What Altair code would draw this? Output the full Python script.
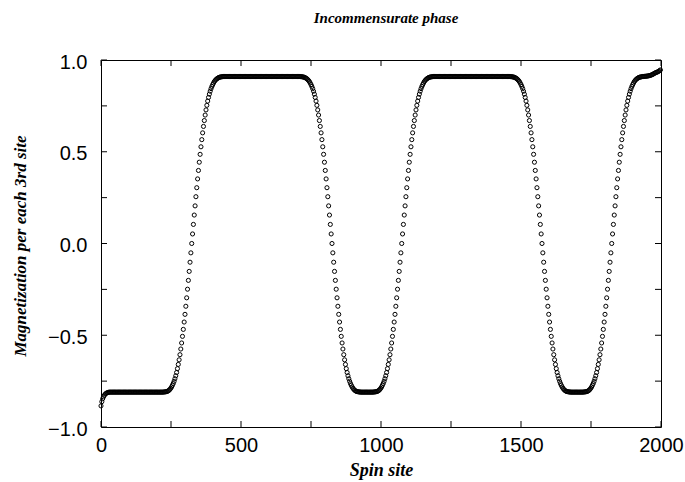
import altair as alt
import pandas as pd

# Magnetization summed over every 3rd spin, sampled at sites 0, 3, ..., 1998.
m_edge_left = [-0.885, -0.862, -0.846, -0.835, -0.827, -0.821, -0.817, -0.814, -0.812, -0.811]

m_shelf_low = [
    -0.810, -0.810, -0.810, -0.810, -0.810, -0.810, -0.810, -0.810, -0.810, -0.810,
    -0.810, -0.810, -0.810, -0.810, -0.810, -0.810, -0.810, -0.810, -0.810, -0.810,
    -0.810, -0.810, -0.810, -0.810, -0.810, -0.810, -0.810, -0.810, -0.810, -0.810,
    -0.810, -0.810, -0.810, -0.810, -0.810, -0.810, -0.810, -0.810, -0.810, -0.810,
    -0.810, -0.810, -0.810, -0.810, -0.810, -0.810, -0.810, -0.810, -0.810, -0.810,
    -0.810, -0.810, -0.810, -0.810, -0.810, -0.810, -0.810, -0.810, -0.810, -0.810,
    -0.810, -0.810, -0.810,
]

m_rise_1 = [
    -0.810, -0.810, -0.809, -0.809, -0.808, -0.807, -0.806, -0.803, -0.800, -0.795,
    -0.789, -0.782, -0.773, -0.763, -0.751, -0.737, -0.721, -0.703, -0.682, -0.659,
    -0.634, -0.606, -0.575, -0.542, -0.506, -0.468, -0.428, -0.386, -0.342, -0.296,
    -0.249, -0.201, -0.152, -0.102, -0.051, 0.000, 0.052, 0.104, 0.155, 0.205,
    0.255, 0.304, 0.352, 0.398, 0.443, 0.486, 0.527, 0.566, 0.603, 0.638,
    0.670, 0.700, 0.728, 0.753, 0.776, 0.796, 0.814, 0.830, 0.844, 0.856,
    0.866, 0.875, 0.883, 0.889, 0.894, 0.898, 0.901, 0.904, 0.906, 0.907,
    0.908,
]

m_top_1 = [
    0.909, 0.909, 0.910, 0.910, 0.910, 0.910, 0.910, 0.910, 0.910, 0.910,
    0.910, 0.910, 0.910, 0.910, 0.910, 0.910, 0.910, 0.910, 0.910, 0.910,
    0.910, 0.910, 0.910, 0.910, 0.910, 0.910, 0.910, 0.910, 0.910, 0.910,
    0.910, 0.910, 0.910, 0.910, 0.910, 0.910, 0.910, 0.910, 0.910, 0.910,
    0.910, 0.910, 0.910, 0.910, 0.910, 0.910, 0.910, 0.910, 0.910, 0.910,
    0.910, 0.910, 0.910, 0.910, 0.910, 0.910, 0.910, 0.910, 0.910, 0.910,
    0.910, 0.910, 0.910, 0.910, 0.910, 0.910, 0.910, 0.910, 0.910, 0.910,
    0.910, 0.910, 0.910, 0.910, 0.910, 0.910, 0.910, 0.910, 0.910, 0.910,
    0.910, 0.910, 0.910, 0.910, 0.910, 0.910, 0.910, 0.910, 0.910, 0.910,
    0.910, 0.910, 0.910, 0.910, 0.909, 0.909,
]

m_fall_1 = [
    0.908, 0.907, 0.906, 0.904, 0.901, 0.898, 0.894, 0.889, 0.883, 0.875,
    0.866, 0.856, 0.844, 0.830, 0.814, 0.796, 0.776, 0.753, 0.728, 0.700,
    0.670, 0.638, 0.603, 0.566, 0.527, 0.486, 0.443, 0.398, 0.352, 0.304,
    0.255, 0.205, 0.155, 0.104, 0.052, 0.000, -0.051, -0.102, -0.152, -0.201,
    -0.249, -0.296, -0.342, -0.386, -0.428, -0.468, -0.506, -0.542, -0.575, -0.606,
    -0.634, -0.659, -0.682, -0.703, -0.721, -0.737, -0.751, -0.763, -0.773, -0.782,
    -0.789, -0.795, -0.800, -0.803, -0.806, -0.807, -0.808, -0.809, -0.809, -0.810,
    -0.810,
]

m_trough_1 = [-0.810, -0.810, -0.810, -0.810, -0.810, -0.810,
              -0.810, -0.810, -0.810, -0.810, -0.810, -0.810]

m_rise_2 = [
    -0.810, -0.810, -0.809, -0.809, -0.808, -0.807, -0.806, -0.803, -0.800, -0.795,
    -0.789, -0.782, -0.773, -0.763, -0.751, -0.737, -0.721, -0.703, -0.682, -0.659,
    -0.634, -0.606, -0.575, -0.542, -0.506, -0.468, -0.428, -0.386, -0.342, -0.296,
    -0.249, -0.201, -0.152, -0.102, -0.051, 0.000, 0.052, 0.104, 0.155, 0.205,
    0.255, 0.304, 0.352, 0.398, 0.443, 0.486, 0.527, 0.566, 0.603, 0.638,
    0.670, 0.700, 0.728, 0.753, 0.776, 0.796, 0.814, 0.830, 0.844, 0.856,
    0.866, 0.875, 0.883, 0.889, 0.894, 0.898, 0.901, 0.904, 0.906, 0.907,
    0.908,
]

m_top_2 = [
    0.909, 0.909, 0.910, 0.910, 0.910, 0.910, 0.910, 0.910, 0.910, 0.910,
    0.910, 0.910, 0.910, 0.910, 0.910, 0.910, 0.910, 0.910, 0.910, 0.910,
    0.910, 0.910, 0.910, 0.910, 0.910, 0.910, 0.910, 0.910, 0.910, 0.910,
    0.910, 0.910, 0.910, 0.910, 0.910, 0.910, 0.910, 0.910, 0.910, 0.910,
    0.910, 0.910, 0.910, 0.910, 0.910, 0.910, 0.910, 0.910, 0.910, 0.910,
    0.910, 0.910, 0.910, 0.910, 0.910, 0.910, 0.910, 0.910, 0.910, 0.910,
    0.910, 0.910, 0.910, 0.910, 0.910, 0.910, 0.910, 0.910, 0.910, 0.910,
    0.910, 0.910, 0.910, 0.910, 0.910, 0.910, 0.910, 0.910, 0.910, 0.910,
    0.910, 0.910, 0.910, 0.910, 0.910, 0.910, 0.910, 0.910, 0.910, 0.910,
    0.910, 0.910, 0.910, 0.910, 0.909, 0.909,
]

m_fall_2 = [
    0.908, 0.907, 0.906, 0.904, 0.901, 0.898, 0.894, 0.889, 0.883, 0.875,
    0.866, 0.856, 0.844, 0.830, 0.814, 0.796, 0.776, 0.753, 0.728, 0.700,
    0.670, 0.638, 0.603, 0.566, 0.527, 0.486, 0.443, 0.398, 0.352, 0.304,
    0.255, 0.205, 0.155, 0.104, 0.052, 0.000, -0.051, -0.102, -0.152, -0.201,
    -0.249, -0.296, -0.342, -0.386, -0.428, -0.468, -0.506, -0.542, -0.575, -0.606,
    -0.634, -0.659, -0.682, -0.703, -0.721, -0.737, -0.751, -0.763, -0.773, -0.782,
    -0.789, -0.795, -0.800, -0.803, -0.806, -0.807, -0.808, -0.809, -0.809, -0.810,
    -0.810,
]

m_trough_2 = [-0.810, -0.810, -0.810, -0.810, -0.810, -0.810,
              -0.810, -0.810, -0.810, -0.810, -0.810, -0.810]

m_rise_3 = [
    -0.810, -0.810, -0.809, -0.809, -0.808, -0.807, -0.806, -0.803, -0.800, -0.795,
    -0.789, -0.782, -0.773, -0.763, -0.751, -0.737, -0.721, -0.703, -0.682, -0.659,
    -0.634, -0.606, -0.575, -0.542, -0.506, -0.468, -0.428, -0.386, -0.342, -0.296,
    -0.249, -0.201, -0.152, -0.102, -0.051, 0.000, 0.052, 0.104, 0.155, 0.205,
    0.255, 0.304, 0.352, 0.398, 0.443, 0.486, 0.527, 0.566, 0.603, 0.638,
    0.670, 0.700, 0.728, 0.753, 0.776, 0.796, 0.814, 0.830, 0.844, 0.856,
    0.866, 0.875, 0.883, 0.889, 0.894, 0.898, 0.901, 0.904, 0.906, 0.907,
    0.908,
]

m_edge_right = [
    0.909, 0.910, 0.910, 0.911, 0.911, 0.912, 0.912, 0.913, 0.914, 0.915,
    0.916, 0.918, 0.920, 0.922, 0.925, 0.928, 0.930, 0.932, 0.934, 0.936,
    0.939, 0.942, 0.946,
]

magnetization = (m_edge_left + m_shelf_low + m_rise_1 + m_top_1 + m_fall_1
                 + m_trough_1 + m_rise_2 + m_top_2 + m_fall_2 + m_trough_2
                 + m_rise_3 + m_edge_right)
sites = list(range(0, 2000, 3))

x_labels = [0, 500, 1000, 1500, 2000]
y_labels = [-1.0, -0.5, 0.0, 0.5, 1.0]
x_ticks = [0, 250, 500, 750, 1000, 1250, 1500, 1750, 2000]
y_ticks = [-1.0, -0.75, -0.5, -0.25, 0.0, 0.25, 0.5, 0.75, 1.0]

W, H = 560, 367
TICK = 6
SERIF = "Liberation Serif"
SANS = "Liberation Sans"

df = pd.DataFrame({"site": sites, "m": magnetization})
xt = pd.DataFrame({"tick": x_ticks})
yt = pd.DataFrame({"tick": y_ticks})

x_scale = alt.Scale(domain=[0, 2000], nice=False, zero=False)
y_scale = alt.Scale(domain=[-1.0, 1.0], nice=False, zero=False)

x_axis = alt.Axis(
    values=x_labels, format="d", ticks=False, tickSize=0, domain=False, grid=False,
    labelFont=SANS, labelFontSize=20, labelColor="black", labelPadding=8,
    labelFlush=False, labelOverlap=False,
    title="Spin site", titleFont=SERIF, titleFontSize=18, titleFontStyle="italic",
    titleFontWeight="bold", titleColor="black", titleX=W / 2, titleY=43,
    titleAlign="center", titleBaseline="middle",
)
y_axis = alt.Axis(
    values=y_labels, format=".1f", ticks=False, tickSize=0, domain=False, grid=False,
    labelFont=SANS, labelFontSize=20, labelColor="black", labelPadding=14,
    labelFlush=False, labelOverlap=False, labelOffset=2,
    title="Magnetization per each 3rd site", titleFont=SERIF, titleFontSize=17,
    titleFontStyle="italic", titleFontWeight="bold", titleColor="black",
    titleX=-81, titleY=H / 2 + 2, titleAngle=-90, titleAlign="center",
    titleBaseline="middle",
)

points = alt.Chart(df).mark_point(
    shape="circle", filled=False, size=17, strokeWidth=1, color="black", opacity=1
).encode(
    x=alt.X("site:Q", scale=x_scale, axis=x_axis),
    y=alt.Y("m:Q", scale=y_scale, axis=y_axis),
)

# inward ticks on all four sides of the frame
bottom_ticks = alt.Chart(xt).mark_rule(color="black", strokeWidth=1).encode(
    x=alt.X("tick:Q", scale=x_scale, axis=x_axis), y=alt.value(H), y2=alt.value(H - TICK))
top_ticks = alt.Chart(xt).mark_rule(color="black", strokeWidth=1).encode(
    x=alt.X("tick:Q", scale=x_scale, axis=x_axis), y=alt.value(0), y2=alt.value(TICK))
left_ticks = alt.Chart(yt).mark_rule(color="black", strokeWidth=1).encode(
    y=alt.Y("tick:Q", scale=y_scale, axis=y_axis), x=alt.value(0), x2=alt.value(TICK))
right_ticks = alt.Chart(yt).mark_rule(color="black", strokeWidth=1).encode(
    y=alt.Y("tick:Q", scale=y_scale, axis=y_axis), x=alt.value(W), x2=alt.value(W - TICK))

chart = alt.layer(points, bottom_ticks, top_ticks, left_ticks, right_ticks).properties(
    width=W,
    height=H,
    autosize=alt.AutoSizeParams(type="none"),
    padding={"left": 101, "top": 60, "right": 24, "bottom": 55},
    title=alt.TitleParams(
        "Incommensurate phase", font=SERIF, fontSize=15, fontStyle="italic",
        fontWeight="bold", color="black", anchor="middle", baseline="alphabetic",
        offset=14, dx=5,
    ),
).configure(background="white").configure_view(stroke="black", strokeWidth=1)

chart.save("out.html", embed_options={"renderer": "svg", "actions": False})
